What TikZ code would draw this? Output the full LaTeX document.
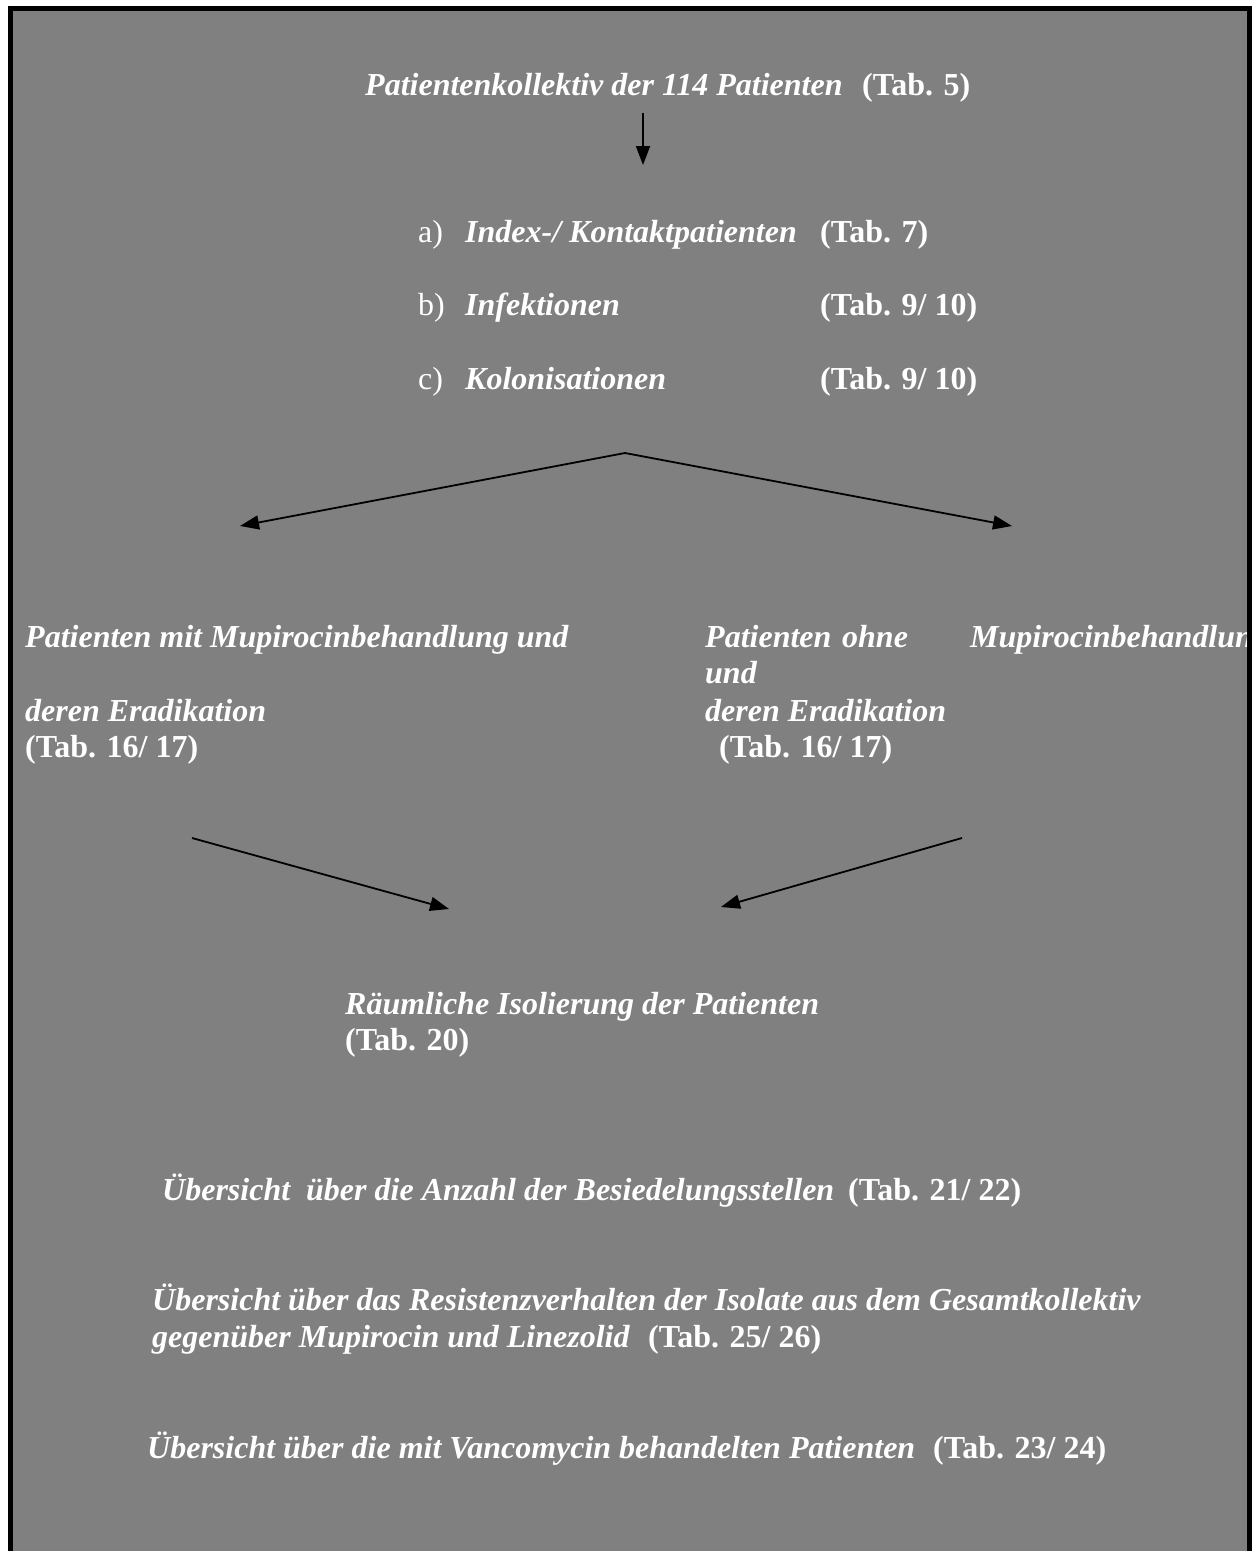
\documentclass[tikz,border=0pt]{standalone}
\usepackage{fontspec}
\setmainfont{Liberation Serif}
\usepackage{xcolor}
\usepackage{tikz}
\usetikzlibrary{arrows.meta, positioning, calc}

\definecolor{bggray}{RGB}{128,128,128}

\begin{document}
\begin{tikzpicture}[
    x=1pt, y=-1pt,
    % plain white text, set on its baseline
    plain/.style={text=white, inner sep=0pt, anchor=base west, font=\fontsize{32}{37}\selectfont},
    itbold/.style={plain, font=\fontsize{32}{37}\selectfont\bfseries\itshape},
    tabref/.style={plain, font=\fontsize{32}{37}\selectfont\bfseries},
    arrow/.style={-{Triangle[length=19pt, width=14pt]}, line width=1.8pt, color=black}
]
\useasboundingbox (0,0) rectangle (1255,1551);
\fill[white] (0,0) rectangle (1255,1551);
\fill[bggray] (13,11) rectangle (1247,1551);

% =========================================================
% TEXTS (clipped to the gray panel)
% =========================================================
\begin{scope}
    \clip (13,11) rectangle (1247,1551);

    % Collective
    \node[itbold] (coll) at (365,95) {Patientenkollektiv der 114 Patienten};
    \node[tabref] (coll_tab) at (862,95) {(Tab. 5)};

    % Groups a) - c)
    \node[plain] (a_lbl) at (418,242) {a)};
    \node[itbold] (a_txt) at (465,242) {Index-/ Kontaktpatienten};
    \node[tabref] (a_tab) at (820,242) {(Tab. 7)};

    \node[plain] (b_lbl) at (418,315) {b)};
    \node[itbold] (b_txt) at (465,315) {Infektionen};
    \node[tabref] (b_tab) at (820,315) {(Tab. 9/ 10)};

    \node[plain] (c_lbl) at (418,389) {c)};
    \node[itbold] (c_txt) at (465,389) {Kolonisationen};
    \node[tabref] (c_tab) at (820,389) {(Tab. 9/ 10)};

    % With mupirocin (left)
    \node[itbold] (mit_1) at (25,647) {Patienten mit Mupirocinbehandlung und};
    \node[itbold] (mit_2) at (25,721) {deren Eradikation};
    \node[tabref] (mit_tab) at (25,757) {(Tab. 16/ 17)};

    % Without mupirocin (right), justified line
    \node[itbold] (ohne_1a) at (705,647) {Patienten};
    \node[itbold] (ohne_1b) at (842,647) {ohne};
    \node[itbold] (ohne_1c) at (970,647) {Mupirocinbehandlung};
    \node[itbold] (ohne_2) at (705,683) {und};
    \node[itbold] (ohne_3) at (705,721) {deren Eradikation};
    \node[tabref] (ohne_tab) at (719,757) {(Tab. 16/ 17)};

    % Isolation
    \node[itbold] (iso) at (345,1014) {Räumliche Isolierung der Patienten};
    \node[tabref] (iso_tab) at (345,1050) {(Tab. 20)};

    % Overviews
    \node[itbold] (ueb_1) at (162,1200) {Übersicht\ \ über die Anzahl der Besiedelungsstellen};
    \node[tabref] (ueb_1_tab) at (848,1200) {(Tab. 21/ 22)};

    \node[itbold] (ueb_2a) at (152,1310) {Übersicht über das Resistenzverhalten der Isolate aus dem Gesamtkollektiv};
    \node[itbold] (ueb_2b) at (152,1347) {gegenüber Mupirocin und Linezolid};
    \node[tabref] (ueb_2_tab) at (648,1347) {(Tab. 25/ 26)};

    \node[itbold] (ueb_3) at (147,1458) {Übersicht über die mit Vancomycin behandelten Patienten};
    \node[tabref] (ueb_3_tab) at (933,1458) {(Tab. 23/ 24)};
\end{scope}

% =========================================================
% ARROWS
% =========================================================
\coordinate (down_top) at (643,113);
\coordinate (down_end) at (643,165);
\draw[arrow] (down_top) -- (down_end);

\coordinate (fork) at (625,453);
\coordinate (fork_l) at (240,526);
\coordinate (fork_r) at (1012,526);
\draw[arrow] (fork) -- (fork_l);
\draw[arrow] (fork) -- (fork_r);

\coordinate (join_ls) at (192,838);
\coordinate (join_le) at (449,909);
\coordinate (join_rs) at (962,838);
\coordinate (join_re) at (721,907);
\draw[arrow] (join_ls) -- (join_le);
\draw[arrow] (join_rs) -- (join_re);

% =========================================================
% FRAME (open at the bottom)
% =========================================================
\fill[black] (8,6) rectangle (1252,11);
\fill[black] (8,6) rectangle (13,1551);
\fill[black] (1247,6) rectangle (1252,1551);

\end{tikzpicture}
\end{document}
